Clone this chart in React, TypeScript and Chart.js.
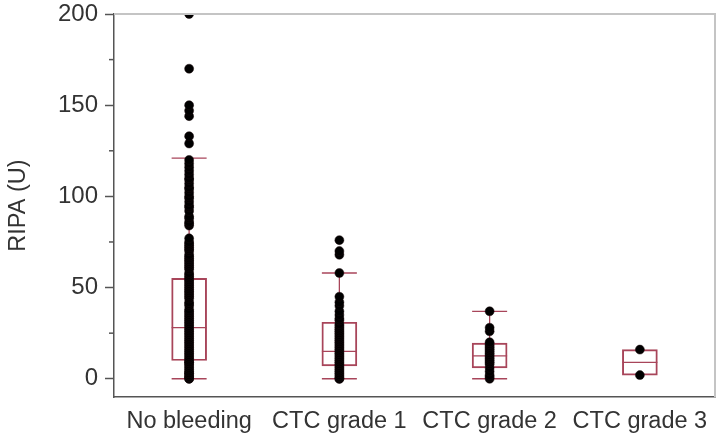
import React, { useEffect, useRef } from 'react';
import { Chart, registerables } from 'chart.js';

Chart.register(...registerables);

const categories = ['No bleeding', 'CTC grade 1', 'CTC grade 2', 'CTC grade 3'];
const q1 = [10, 7, 6, 2];
const medians = [28, 15, 12.5, 9];
const q3 = [55, 31, 19.5, 16];
const whiskerLow = [0, 0, 0, 2];
const whiskerHigh = [121, 58, 37, 16];

const noBleedingPoints = [
  0, 0, 1, 1, 2, 3, 3, 4, 5, 6, 7, 8, 9, 9, 10, 11, 12, 13, 14, 15, 16, 17, 18, 19, 20,
  21, 22, 23, 24, 25, 26, 27, 28, 29, 30, 31, 32, 33, 34, 35, 36, 37, 38, 40, 41, 42,
  44, 45, 46, 47, 48, 49, 50, 51, 52, 53, 54, 55, 56, 57, 58, 60, 61, 62, 63, 64, 65,
  66, 67, 68, 70, 71, 72, 73, 74, 75, 77, 84, 85, 86, 88, 89, 92, 94, 95, 97, 99, 100,
  102, 104, 105, 107, 109, 110, 112, 114, 116, 118, 120, 129, 133, 144, 147, 150, 170, 200,
];
const grade1Points = [
  0, 0, 1, 2, 3, 4, 5, 6, 7, 8, 9, 10, 11, 12, 13, 14, 15, 16, 17, 18, 19, 20, 21, 22,
  23, 24, 25, 26, 27, 28, 29, 30, 32, 33, 35, 37, 40, 42, 45, 58, 68, 70, 76,
];
const grade2Points = [0, 1, 2, 4, 6, 8, 9, 10, 11, 12, 13, 14, 15, 16, 17, 18, 19, 20, 26, 28, 37];
const grade3Points = [2, 16];

const yMajorTicks = [0, 50, 100, 150, 200];
const yMinorTicks = [25, 75, 125, 175];

const BOX_COLOR = '#a8455a';
const AXIS_COLOR = '#555555';
const TEXT_COLOR = '#333333';
const FONT_FAMILY = '"Liberation Sans", Arial, sans-serif';
const BOX_WIDTH = 35;

const boxExtras = {
  id: 'boxExtras',
  beforeDatasetsDraw(chart: any) {
    const { ctx } = chart;
    const x = chart.scales.x;
    const y = chart.scales.y;
    const half = BOX_WIDTH / 2;
    ctx.save();
    ctx.strokeStyle = BOX_COLOR;
    ctx.lineWidth = 1.3;
    const seg = (x1: number, y1: number, x2: number, y2: number) => {
      ctx.beginPath();
      ctx.moveTo(x1, y1);
      ctx.lineTo(x2, y2);
      ctx.stroke();
    };
    categories.forEach((_, i) => {
      const cx = x.getPixelForValue(i);
      const yQ1 = y.getPixelForValue(q1[i]);
      const yQ3 = y.getPixelForValue(q3[i]);
      const yHi = y.getPixelForValue(whiskerHigh[i]);
      const yLo = y.getPixelForValue(whiskerLow[i]);
      const yMed = y.getPixelForValue(medians[i]);
      if (whiskerHigh[i] > q3[i]) {
        seg(cx, yQ3, cx, yHi);
        seg(cx - half, yHi, cx + half, yHi);
      }
      if (whiskerLow[i] < q1[i]) {
        seg(cx, yQ1, cx, yLo);
        seg(cx - half, yLo, cx + half, yLo);
      }
      seg(cx - half, yMed, cx + half, yMed);
    });
    ctx.restore();
  },
  afterDraw(chart: any) {
    const { ctx, chartArea } = chart;
    const y = chart.scales.y;
    ctx.save();
    ctx.strokeStyle = '#c4c4c4';
    ctx.lineWidth = 2;
    ctx.beginPath();
    ctx.moveTo(chartArea.left, chartArea.top);
    ctx.lineTo(chartArea.right, chartArea.top);
    ctx.lineTo(chartArea.right, chartArea.bottom);
    ctx.stroke();
    ctx.strokeStyle = AXIS_COLOR;
    ctx.lineWidth = 1.5;
    yMinorTicks.forEach((v) => {
      const py = y.getPixelForValue(v);
      ctx.beginPath();
      ctx.moveTo(chartArea.left - 5, py);
      ctx.lineTo(chartArea.left, py);
      ctx.stroke();
    });
    ctx.restore();
  },
};

export default function App() {
  const canvasRef = useRef<HTMLCanvasElement | null>(null);

  useEffect(() => {
    const canvas = canvasRef.current;
    if (!canvas) return;
    const pointData: { x: string; y: number }[] = [];
    [noBleedingPoints, grade1Points, grade2Points, grade3Points].forEach((arr, i) => {
      arr.forEach((v) => pointData.push({ x: categories[i], y: v }));
    });

    const chart = new Chart(canvas, {
      type: 'bar',
      data: {
        labels: categories,
        datasets: [
          {
            type: 'line',
            label: 'RIPA',
            data: pointData as any,
            showLine: false,
            pointRadius: 4.5,
            pointBackgroundColor: '#000000',
            pointBorderColor: '#1a0a0d',
            pointBorderWidth: 0.5,
            order: 0,
          } as any,
          {
            type: 'bar',
            label: 'IQR',
            data: q1.map((v, i) => [v, q3[i]]) as any,
            backgroundColor: 'rgba(255,255,255,0)',
            borderColor: BOX_COLOR,
            borderWidth: 1.3,
            borderSkipped: false,
            barThickness: BOX_WIDTH,
            order: 1,
          } as any,
        ],
      },
      options: {
        responsive: false,
        animation: false,
        devicePixelRatio: 1,
        layout: { padding: { top: 14, right: 5, left: 0, bottom: 0 } },
        plugins: {
          legend: { display: false },
          tooltip: { enabled: false },
        },
        scales: {
          x: {
            type: 'category',
            offset: true,
            grid: { display: false, drawTicks: false },
            border: { display: true, color: AXIS_COLOR, width: 1.5 },
            ticks: {
              font: { size: 23.5, family: FONT_FAMILY },
              color: TEXT_COLOR,
              padding: 10,
              maxRotation: 0,
              autoSkip: false,
            },
            afterFit: (s: any) => {
              s.height = 39;
              s.paddingLeft = 0;
              s.paddingRight = 0;
            },
          },
          y: {
            type: 'linear',
            min: -10,
            max: 200,
            grid: {
              drawOnChartArea: false,
              drawTicks: true,
              tickLength: 9,
              tickColor: AXIS_COLOR,
              tickWidth: 1.5,
            },
            border: { display: true, color: AXIS_COLOR, width: 1.5 },
            afterBuildTicks: (s: any) => {
              s.ticks = yMajorTicks.map((v) => ({ value: v }));
            },
            ticks: {
              font: { size: 24, family: FONT_FAMILY },
              color: TEXT_COLOR,
              padding: 7,
            },
            title: {
              display: true,
              text: 'RIPA (U)',
              font: { size: 23.5, family: FONT_FAMILY },
              color: TEXT_COLOR,
              padding: { top: 4, bottom: 4 },
            },
            afterFit: (s: any) => {
              s.width = 114;
              s.paddingTop = 0;
              s.paddingBottom = 0;
            },
          },
        },
      },
      plugins: [boxExtras],
    });
    return () => chart.destroy();
  }, []);

  return (
    <div style={{ position: 'fixed', left: 0, top: 0, width: 720, height: 436, background: '#ffffff' }}>
      <canvas ref={canvasRef} width={720} height={436} />
    </div>
  );
}
